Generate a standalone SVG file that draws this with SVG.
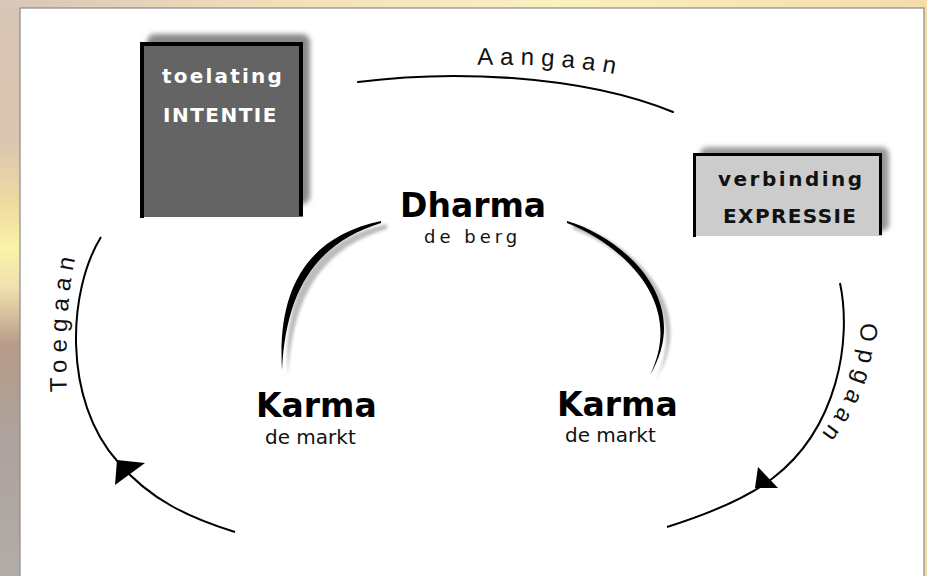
<svg xmlns="http://www.w3.org/2000/svg" width="927" height="576" viewBox="0 0 927 576">
  <defs>
    <linearGradient id="bgLeft" x1="0" y1="0" x2="0" y2="1">
      <stop offset="0" stop-color="#d6c4b6"/>
      <stop offset="0.25" stop-color="#dcc6b0"/>
      <stop offset="0.36" stop-color="#efdca0"/>
      <stop offset="0.43" stop-color="#faf4a8"/>
      <stop offset="0.5" stop-color="#f0e0b0"/>
      <stop offset="0.6" stop-color="#b89a88"/>
      <stop offset="0.75" stop-color="#ada29c"/>
      <stop offset="1" stop-color="#b2aca8"/>
    </linearGradient>
    <linearGradient id="bgTop" x1="0" y1="0" x2="1" y2="0">
      <stop offset="0" stop-color="#d8c6b8"/>
      <stop offset="0.3" stop-color="#f2dfb8"/>
      <stop offset="0.6" stop-color="#fbf0c0"/>
      <stop offset="1" stop-color="#f4dcaa"/>
    </linearGradient>
    <filter id="blur" x="-20%" y="-20%" width="140%" height="140%">
      <feGaussianBlur stdDeviation="2.5"/>
    </filter>
    <filter id="blurS" x="-20%" y="-20%" width="140%" height="140%">
      <feGaussianBlur stdDeviation="1.8"/>
    </filter>
    <path id="tpAangaan" d="M470,65 C530,64 585,65 640,80"/>
    <path id="tpToegaan" d="M67,400 C66,340 65,300 78,245"/>
    <path id="tpOpgaan" d="M859,315 C865,362 850,400 812,446"/>
  </defs>
  <style>
    .box-title { font-family: "DejaVu Sans", Verdana, sans-serif; font-weight: bold; font-size: 20px; }
    .big { font-family: "DejaVu Sans", Verdana, sans-serif; font-weight: bold; font-size: 33px; fill: #000; }
    .sub { font-family: "DejaVu Sans", Verdana, sans-serif; fill: #111; }
    .arclabel { font-family: "Liberation Sans", Arial, sans-serif; font-size: 24px; fill: #111; letter-spacing: 7px; }
    .conn { fill: none; stroke: #000; stroke-width: 2; }
    .arrow { fill: #000; }
    .inner { fill: #000; }
    .innershadow { fill: #bcbcbc; }
  </style>

  <!-- background -->
  <rect x="0" y="0" width="927" height="576" fill="url(#bgLeft)"/>
  <rect x="0" y="0" width="927" height="9" fill="url(#bgTop)"/>
  <rect x="920" y="0" width="7" height="576" fill="#f2dcaa"/>
  <rect x="20" y="8" width="904" height="570" fill="#ffffff" stroke="#8a8a8a" stroke-width="1.2"/>

  <!-- connectors -->
  <g id="connectors">
    <path id="aangaan" class="conn" d="M358,82 C450,70 580,74 673,112" stroke-linecap="round"/>
    <path id="toegaan" class="conn" d="M101,237 C68,290 62,400 118,462 C150,500 190,518 235,532"/>
    <polygon class="arrow" points="117,460 145,463 115,485"/>
    <path id="opgaan" class="conn" d="M840,283 C852,340 838,428 773,478 C747,498 705,515 667,527"/>
    <polygon class="arrow" points="755,488 758,467 778,488"/>

    <g id="inner-left">
      <path class="innershadow" filter="url(#blurS)" transform="translate(6,4)" d="M381,220 C310,235 276,285 282,371 C287,290 317,244 381,225 Z"/>
      <path class="inner" d="M381,221 C310,236 277,285 282,370 C286,290 316,243 381,223 Z"/>
    </g>
    <g id="inner-right">
      <path class="innershadow" filter="url(#blurS)" transform="translate(6,4)" d="M567,220 C622,236 696,300 650,376 C686,300 618,244 567,225 Z"/>
      <path class="inner" d="M567,221 C622,237 695,300 650,375 C687,300 618,243 567,223 Z"/>
    </g>

    <text class="arclabel"><textPath href="#tpAangaan" startOffset="7">Aangaan</textPath></text>
    <text class="arclabel"><textPath href="#tpToegaan" startOffset="8">Toegaan</textPath></text>
    <text class="arclabel"><textPath href="#tpOpgaan" startOffset="8">Opgaan</textPath></text>
  </g>

  <!-- nodes -->
  <g id="node-intentie">
    <rect x="147" y="34" width="163" height="170" rx="8" fill="#8a8a8a" filter="url(#blur)"/>
    <rect x="140" y="42" width="163" height="175" fill="#646464"/>
    <path d="M142,218 V44 H301 V216" fill="none" stroke="#000" stroke-width="4"/>
    <text class="box-title" x="162" y="83" fill="#ffffff" style="letter-spacing:2.2px">toelating</text>
    <text class="box-title" x="163" y="122" fill="#ffffff" style="letter-spacing:1.5px">INTENTIE</text>
  </g>

  <g id="node-expressie">
    <rect x="700" y="147" width="189" height="84" rx="7" fill="#9a9a9a" filter="url(#blur)"/>
    <rect x="693" y="153" width="189" height="83" fill="#cccccc"/>
    <path d="M694.5,237 V154.5 H880.5 V235" fill="none" stroke="#000" stroke-width="3"/>
    <text class="box-title" x="718" y="186" fill="#111" style="letter-spacing:2.5px">verbinding</text>
    <text class="box-title" x="723" y="223" fill="#111" style="letter-spacing:1.4px">EXPRESSIE</text>
  </g>

  <g id="node-dharma">
    <text class="big" x="400" y="217">Dharma</text>
    <text class="sub" x="424" y="243" style="font-size:18px;letter-spacing:4px">de berg</text>
  </g>

  <g id="node-karma-left">
    <text class="big" x="256" y="417">Karma</text>
    <text class="sub" x="265" y="444" style="font-size:20px">de markt</text>
  </g>

  <g id="node-karma-right">
    <text class="big" x="557" y="416">Karma</text>
    <text class="sub" x="565" y="442" style="font-size:20px">de markt</text>
  </g>
</svg>
